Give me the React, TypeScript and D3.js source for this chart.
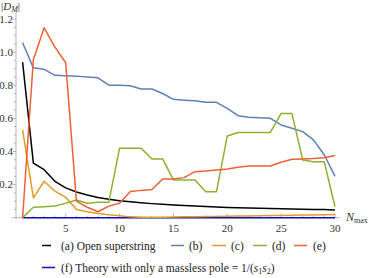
import * as d3 from "d3";

const nValues = d3.range(1, 31);

const openSuperstring = [0.94, 0.33, 0.29, 0.22, 0.18, 0.155, 0.137, 0.122, 0.112, 0.103, 0.096, 0.09, 0.085, 0.081, 0.077, 0.073, 0.07, 0.067, 0.065, 0.062, 0.06, 0.058, 0.057, 0.055, 0.054, 0.052, 0.051, 0.05, 0.049, 0.047];
const seriesB = [1.057, 0.905, 0.896, 0.86, 0.858, 0.855, 0.85, 0.845, 0.8, 0.8, 0.797, 0.777, 0.777, 0.75, 0.715, 0.71, 0.706, 0.697, 0.697, 0.66, 0.616, 0.606, 0.603, 0.6, 0.56, 0.54, 0.52, 0.47, 0.38, 0.25];
const seriesC = [0.53, 0.12, 0.22, 0.16, 0.123, 0.05, 0.036, 0.026, 0.018, 0.012, 0.005, 0.002, 0.002, 0.003, 0.004, 0.005, 0.006, 0.007, 0.008, 0.009, 0.01, 0.011, 0.012, 0.013, 0.014, 0.015, 0.016, 0.017, 0.018, 0.02];
const seriesD = [0, 0.063, 0.066, 0.07, 0.087, 0.107, 0.087, 0.093, 0.093, 0.42, 0.42, 0.42, 0.355, 0.355, 0.228, 0.228, 0.228, 0.157, 0.157, 0.493, 0.515, 0.515, 0.515, 0.515, 0.63, 0.63, 0.348, 0.338, 0.338, 0.066];
const seriesE = [0, 0.956, 1.147, 1.03, 0.936, 0.1, 0.063, 0.036, 0.07, 0.087, 0.158, 0.165, 0.17, 0.234, 0.234, 0.242, 0.278, 0.282, 0.288, 0.294, 0.304, 0.312, 0.312, 0.312, 0.335, 0.353, 0.355, 0.357, 0.362, 0.375];
const masslessPole = nValues.map(() => 0);

const xTicks = [5, 10, 15, 20, 25, 30];
const yTicks = [0.2, 0.4, 0.6, 0.8, 1.0, 1.2];

const series = [
  { key: "f", values: masslessPole, color: "#1010c0" },
  { key: "a", values: openSuperstring, color: "#000000" },
  { key: "b", values: seriesB, color: "#5e81b5" },
  { key: "c", values: seriesC, color: "#e19c24" },
  { key: "d", values: seriesD, color: "#8fb032" },
  { key: "e", values: seriesE, color: "#eb6235" },
];

const legendRow1 = [
  { label: "(a) Open superstring", color: "#000000", x0: 42, x1: 51, tx: 61 },
  { label: "(b)", color: "#5e81b5", x0: 171, x1: 184, tx: 189 },
  { label: "(c)", color: "#e19c24", x0: 212, x1: 226, tx: 231 },
  { label: "(d)", color: "#8fb032", x0: 253, x1: 267, tx: 272 },
  { label: "(e)", color: "#eb6235", x0: 294, x1: 307, tx: 313 },
];

const font = "'Liberation Serif', 'DejaVu Serif', serif";

export default function App() {
  const width = 369;
  const height = 278;

  const x = d3.scaleLinear().domain([1, 30]).range([22.6, 335]);
  const y = d3.scaleLinear().domain([0, 1.2]).range([217.7, 19]);
  const axisColor = "#b3b3b3";
  const x0 = 16;
  const y0 = y(0);

  const line = d3
    .line<number>()
    .x((_, i) => x(nValues[i]))
    .y((d) => y(d));

  const minorX = nValues.filter((n) => n % 5 !== 0);
  const minorY = d3.range(0.05, 1.26, 0.05).filter((v) => Math.abs(v * 5 - Math.round(v * 5)) > 1e-6);

  return (
    <svg width={width} height={height} style={{ position: "absolute", left: 0, top: 0, fontFamily: font }}>
      {/* axes */}
      <line x1={12} x2={340} y1={y0} y2={y0} stroke={axisColor} strokeWidth={1} />
      <line x1={x0} x2={x0} y1={12} y2={y0 + 1} stroke={axisColor} strokeWidth={1} />
      {xTicks.map((t) => (
        <g key={"xt" + t}>
          <line x1={x(t)} x2={x(t)} y1={y0} y2={y0 - 4} stroke={axisColor} />
          <text x={x(t)} y={232} fontSize={11} textAnchor="middle" fill="#333">
            {t}
          </text>
        </g>
      ))}
      {minorX.map((t) => (
        <line key={"xm" + t} x1={x(t)} x2={x(t)} y1={y0} y2={y0 - 2} stroke={axisColor} />
      ))}
      {yTicks.map((t) => (
        <g key={"yt" + t}>
          <line x1={x0 - 3} x2={x0} y1={y(t)} y2={y(t)} stroke={axisColor} />
          <text x={13} y={y(t) + 3.5} fontSize={11} textAnchor="end" fill="#333">
            {t.toFixed(1)}
          </text>
        </g>
      ))}
      {minorY.map((t) => (
        <line key={"ym" + t} x1={x0 - 2} x2={x0} y1={y(t)} y2={y(t)} stroke={axisColor} />
      ))}

      {/* axis labels */}
      <text x={1} y={10} fontSize={11} fill="#333">
        |<tspan fontStyle="italic">D</tspan>
        <tspan fontStyle="italic" fontSize={8} dy={2}>M</tspan>
        <tspan dy={-2}>|</tspan>
      </text>
      <text x={346} y={221} fontSize={12} fill="#333">
        <tspan fontStyle="italic">N</tspan>
        <tspan fontSize={8} dy={2}>max</tspan>
      </text>

      {/* series */}
      {series.map((s) => (
        <path key={s.key} d={line(s.values) || ""} fill="none" stroke={s.color} strokeWidth={1.5} strokeLinejoin="round" />
      ))}

      {/* legend */}
      {legendRow1.map((l) => (
        <g key={l.label}>
          <line x1={l.x0} x2={l.x1} y1={245.5} y2={245.5} stroke={l.color} strokeWidth={1.5} />
          <text x={l.tx} y={249.5} fontSize={11.5} fill="#222">
            {l.label}
          </text>
        </g>
      ))}
      <line x1={42} x2={55} y1={267.5} y2={267.5} stroke="#1010c0" strokeWidth={1.5} />
      <text x={61} y={271.5} fontSize={11.5} fill="#222">
        (f) Theory with only a massless pole = 1/(
        <tspan fontStyle="italic">s</tspan>
        <tspan fontSize={8} dy={2}>1</tspan>
        <tspan fontStyle="italic" dy={-2}>s</tspan>
        <tspan fontSize={8} dy={2}>2</tspan>
        <tspan dy={-2}>)</tspan>
      </text>
    </svg>
  );
}
